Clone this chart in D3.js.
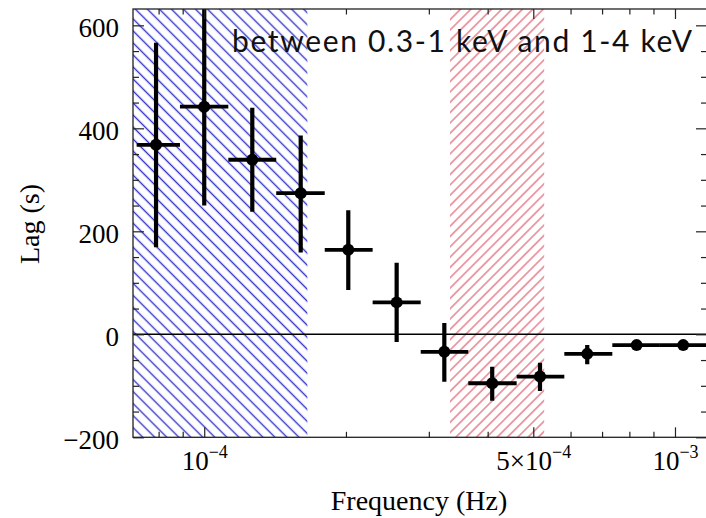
<!DOCTYPE html>
<html><head><meta charset="utf-8">
<script src="https://cdn.jsdelivr.net/npm/d3@7"></script>
<style>body{margin:0;background:#fff} svg{display:block}</style>
</head><body><svg id="c" width="706" height="518"></svg>
<script>
// ---- data ----
const freq   = [7.90e-5, 1.00e-4, 1.265e-4, 1.603e-4, 2.023e-4, 2.563e-4, 3.236e-4, 4.09e-4, 5.167e-4, 6.51e-4, 8.29e-4, 1.041e-3];
const freqLo = [7.185e-5, 8.88e-5, 1.125e-4, 1.422e-4, 1.803e-4, 2.279e-4, 2.883e-4, 3.638e-4, 4.61e-4, 5.82e-4, 7.36e-4, 9.29e-4];
const freqHi = [8.88e-5, 1.125e-4, 1.422e-4, 1.803e-4, 2.279e-4, 2.883e-4, 3.638e-4, 4.61e-4, 5.82e-4, 7.36e-4, 9.29e-4, 1.175e-3];
const lag    = [368, 442, 339, 274, 164, 62, -34, -95, -82, -38, -21, -21];
const lagLo  = [169, 250, 238, 159, 86, -15, -92, -129, -110, -58, -26, -25];
const lagHi  = [566, 660, 440, 386, 241, 139, 22, -63, -55, -21, -16, -17];
const blueBand = [6.5e-5, 1.656e-4];
const redBand  = [3.327e-4, 5.274e-4];
const yTicks = [-200, 0, 200, 400, 600];
const yMinor = [-150, -100, -50, 50, 100, 150, 250, 300, 350, 450, 500, 550];
const xMajor = [1e-4, 5e-4, 1e-3];
const xMajorLabels = [["10", "−4"], ["5×10", "−4"], ["10", "−3"]];
const xMinor = [8e-5, 9e-5, 2e-4, 3e-4, 4e-4, 6e-4, 7e-4, 8e-4, 9e-4];
const annotation = "between 0.3-1 keV and 1-4 keV";
const xTitle = "Frequency (Hz)";
const yTitle = "Lag (s)";

// ---- layout ----
const m = {left: 133, right: 707, top: 9, bottom: 437.3};
const x = d3.scaleLog().domain([7.058e-5, 1.1695e-3]).range([m.left, m.right]);
const y = d3.scaleLinear().domain([-200, 631.7]).range([m.bottom, m.top]);
const svg = d3.select("#c");
const defs = svg.append("defs");
defs.append("clipPath").attr("id", "plot").append("rect")
  .attr("x", m.left).attr("y", m.top).attr("width", m.right - m.left).attr("height", m.bottom - m.top);

function hatch(id, color, sp, rot, sw) {
  const p = defs.append("pattern").attr("id", id).attr("patternUnits", "userSpaceOnUse")
    .attr("width", sp).attr("height", sp).attr("patternTransform", `rotate(${rot})`);
  p.append("line").attr("x1", sp / 2).attr("x2", sp / 2).attr("y1", -1).attr("y2", sp + 1)
    .attr("stroke", color).attr("stroke-width", sw);
}
hatch("hb", "#3636c2", 8.5, -45, 1.4);
hatch("hr", "#dc5565", 7.3, 45, 1.1);

const g = svg.append("g").attr("clip-path", "url(#plot)");
g.append("rect").attr("x", x(blueBand[0])).attr("width", x(blueBand[1]) - x(blueBand[0]))
  .attr("y", m.top).attr("height", m.bottom - m.top).attr("fill", "url(#hb)");
g.append("rect").attr("x", x(redBand[0])).attr("width", x(redBand[1]) - x(redBand[0]))
  .attr("y", m.top).attr("height", m.bottom - m.top).attr("fill", "url(#hr)");

// zero line
g.append("line").attr("x1", m.left).attr("x2", m.right).attr("y1", y(0)).attr("y2", y(0))
  .attr("stroke", "#000").attr("stroke-width", 1.4);

const idx = d3.range(freq.length);
g.selectAll("line.ev").data(idx).join("line").attr("class", "ev")
  .attr("x1", i => x(freq[i])).attr("x2", i => x(freq[i]))
  .attr("y1", i => y(lagLo[i])).attr("y2", i => y(lagHi[i]))
  .attr("stroke", "#000").attr("stroke-width", 4.2);
g.selectAll("line.eh").data(idx).join("line").attr("class", "eh")
  .attr("x1", i => x(freqLo[i])).attr("x2", i => x(freqHi[i]))
  .attr("y1", i => y(lag[i])).attr("y2", i => y(lag[i]))
  .attr("stroke", "#000").attr("stroke-width", 3.8);
g.selectAll("circle").data(idx).join("circle")
  .attr("cx", i => x(freq[i])).attr("cy", i => y(lag[i])).attr("r", 6).attr("fill", "#000");

// frame
svg.append("rect").attr("x", m.left).attr("y", m.top).attr("width", m.right - m.left).attr("height", m.bottom - m.top)
  .attr("fill", "none").attr("stroke", "#222").attr("stroke-width", 1.3);

const tickStyle = sel => { sel.select(".domain").remove(); sel.selectAll("line").attr("stroke", "#222").attr("stroke-width", 1.2); };

// bottom
svg.append("g").attr("transform", `translate(0,${m.bottom})`)
  .call(d3.axisBottom(x).tickValues(xMinor).tickSizeInner(-5.5).tickSizeOuter(0).tickFormat(""))
  .call(tickStyle);
const bx = svg.append("g").attr("transform", `translate(0,${m.bottom})`)
  .call(d3.axisBottom(x).tickValues(xMajor).tickSizeInner(-10).tickSizeOuter(0).tickFormat(""))
  .call(tickStyle);
bx.selectAll(".tick").each(function(d, i) {
  const t = d3.select(this).append("text").attr("y", 33).attr("text-anchor", "middle")
    .attr("fill", "#000").style("font-family", "'Liberation Serif','Times New Roman',serif").style("font-size", "27px");
  t.append("tspan").text(xMajorLabels[i][0]);
  t.append("tspan").attr("dy", -12).style("font-size", "18px").text(xMajorLabels[i][1]);
});
// top
svg.append("g").attr("transform", `translate(0,${m.top})`)
  .call(d3.axisTop(x).tickValues(xMinor).tickSizeInner(-5.5).tickSizeOuter(0).tickFormat("")).call(tickStyle);
svg.append("g").attr("transform", `translate(0,${m.top})`)
  .call(d3.axisTop(x).tickValues(xMajor).tickSizeInner(-10).tickSizeOuter(0).tickFormat("")).call(tickStyle);
// left
svg.append("g").attr("transform", `translate(${m.left},0)`)
  .call(d3.axisLeft(y).tickValues(yMinor).tickSizeInner(-6).tickSizeOuter(0).tickFormat("")).call(tickStyle);
const ly = svg.append("g").attr("transform", `translate(${m.left},0)`)
  .call(d3.axisLeft(y).tickValues(yTicks).tickSizeInner(-11).tickSizeOuter(0).tickPadding(14))
  .call(tickStyle);
ly.selectAll("text").attr("fill", "#000").attr("dy", "0.41em")
  .style("font-family", "'Liberation Serif','Times New Roman',serif").style("font-size", "27px");
// right
svg.append("g").attr("transform", `translate(${m.right},0)`)
  .call(d3.axisRight(y).tickValues(yMinor).tickSizeInner(-6).tickSizeOuter(0).tickFormat("")).call(tickStyle);
svg.append("g").attr("transform", `translate(${m.right},0)`)
  .call(d3.axisRight(y).tickValues(yTicks).tickSizeInner(-11).tickSizeOuter(0).tickFormat("")).call(tickStyle);

// titles
svg.append("text").attr("x", (m.left + m.right) / 2 - 1).attr("y", 510).attr("text-anchor", "middle")
  .style("font-family", "'Liberation Serif','Times New Roman',serif").style("font-size", "28px").text(xTitle);
svg.append("text").attr("transform", `translate(39,224) rotate(-90)`).attr("text-anchor", "middle")
  .style("font-family", "'Liberation Serif','Times New Roman',serif").style("font-size", "28px").text(yTitle);

// annotation
svg.append("text").attr("x", 232).attr("y", 52).attr("textLength", 460).attr("lengthAdjust", "spacing")
  .attr("fill", "#111").style("font-family", "Lato, 'Open Sans', sans-serif").style("font-size", "30px").text(annotation);
</script></body></html>
